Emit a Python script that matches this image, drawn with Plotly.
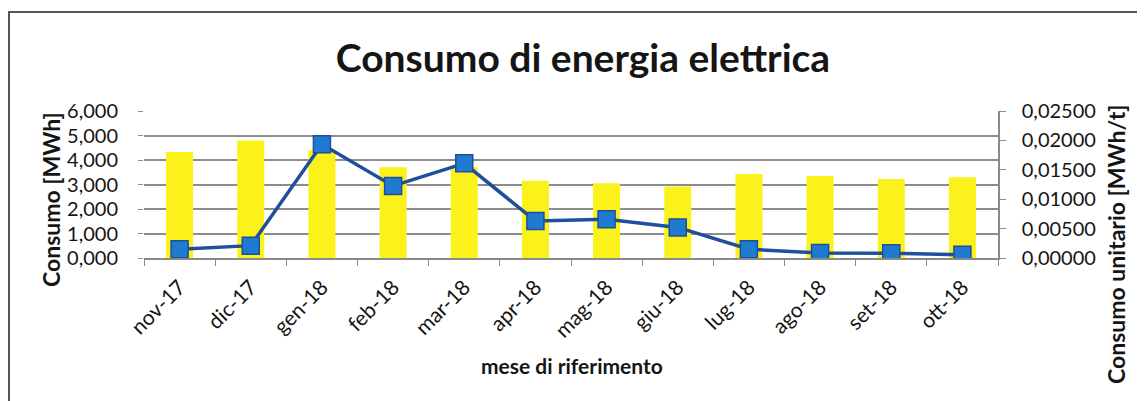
import plotly.graph_objects as go

months = ["nov-17", "dic-17", "gen-18", "feb-18", "mar-18", "apr-18",
          "mag-18", "giu-18", "lug-18", "ago-18", "set-18", "ott-18"]
consumo_mwh = [4.33, 4.80, 4.40, 3.70, 3.70, 3.15, 3.05, 2.92, 3.43, 3.35, 3.22, 3.30]
consumo_unitario = [0.00150, 0.00210, 0.01935, 0.01225, 0.01610, 0.00630,
                    0.00660, 0.00520, 0.00150, 0.00085, 0.00080, 0.00056]

OFF = 8  # page body margin
W, H = 1145 - OFF, 401 - OFF
PL, PR, PT, PB = 144, 998, 111, 258  # plot area in reference pixels
L, T = PL - OFF, PT - OFF
R = W - (PR - OFF)
B = H - (PB - OFF)

FONT = "Lato"
INK = "#151515"

def px_x(p):
    return (p - PL) / (PR - PL)

def px_y(p):
    return (PB - p) / (PB - PT)

fig = go.Figure()
fig.add_trace(go.Bar(x=months, y=consumo_mwh, marker_color="#FBF21C",
                     marker_line_width=0, name="Consumo [MWh]", yaxis="y"))
fig.add_trace(go.Scatter(x=months, y=consumo_unitario, yaxis="y2", mode="lines+markers",
                         line=dict(color="#1F4E9A", width=3.5),
                         marker=dict(symbol="square", size=17, color="#1F7BD0",
                                     line=dict(color="#1F4E9A", width=1.5)),
                         name="Consumo unitario [MWh/t]"))

ann = dict(xref="paper", yref="paper", showarrow=False, xanchor="center", yanchor="middle")

fig.update_layout(
    width=W, height=H,
    margin=dict(l=L, r=R, t=T, b=B),
    separators=",.",
    paper_bgcolor="white", plot_bgcolor="white",
    showlegend=False,
    bargap=0.62,
    font=dict(family=FONT, color=INK),
    title=dict(text="<b>Consumo di energia elettrica</b>", x=(583 - OFF) / W, xanchor="center",
               y=1 - (58 - OFF) / H, yanchor="middle",
               font=dict(size=39, family=FONT, color=INK)),
    xaxis=dict(type="category", range=[-0.5, len(months) - 0.5], tickangle=-45,
               tickfont=dict(size=21, family=FONT, color=INK),
               showgrid=False, showline=True, linecolor="#8a8a8a", linewidth=1.5,
               ticks="outside", ticklen=6, tickcolor="#8a8a8a", tickson="boundaries",
               ticklabelstandoff=7),
    yaxis=dict(range=[0, 6], tickvals=[0, 1, 2, 3, 4, 5, 6], tickformat=".3f",
               tickfont=dict(size=20, family=FONT, color=INK), showgrid=True,
               gridcolor="#8c8c8c", gridwidth=1.5, zeroline=False, showline=False,
               ticks="outside", ticklen=5, tickcolor="#8a8a8a", ticklabelstandoff=16),
    yaxis2=dict(range=[0, 0.025], tickvals=[0, 0.005, 0.01, 0.015, 0.02, 0.025],
                tickformat=".5f", overlaying="y", side="right",
                tickfont=dict(size=20, family=FONT, color=INK), showgrid=False,
                zeroline=False, showline=True, linecolor="#8a8a8a", linewidth=1.5,
                ticks="outside", ticklen=6, tickcolor="#8a8a8a", ticklabelstandoff=12),
    annotations=[
        dict(ann, text="<b>Consumo [MWh]</b>", x=px_x(51), y=px_y(200), textangle=-90,
             font=dict(size=23, family=FONT, color=INK)),
        dict(ann, text="<b>Consumo unitario [MWh/t]</b>", x=px_x(1116), y=px_y(244),
             textangle=-90, font=dict(size=23, family=FONT, color=INK)),
        dict(ann, text="<b>mese di riferimento</b>", x=px_x(572), y=px_y(365),
             font=dict(size=21, family=FONT, color=INK)),
    ],
    shapes=[
        dict(type="line", xref="paper", yref="paper", x0=px_x(OFF), x1=px_x(1145),
             y0=px_y(12), y1=px_y(12), line=dict(color="#555555", width=2)),
        dict(type="line", xref="paper", yref="paper", x0=px_x(OFF + 1), x1=px_x(OFF + 1),
             y0=px_y(12), y1=px_y(401), line=dict(color="#555555", width=2)),
    ],
)

fig.write_html("out.html")
